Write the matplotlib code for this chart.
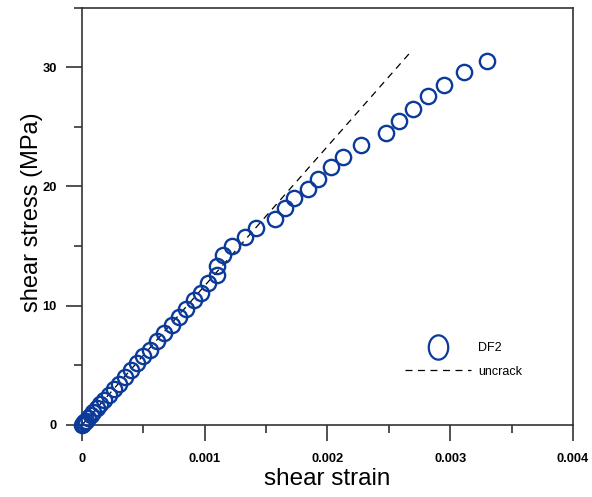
import matplotlib

matplotlib.use("Agg")

import matplotlib.pyplot as plt
from matplotlib.lines import Line2D
from matplotlib.path import Path
from matplotlib.ticker import FuncFormatter, MultipleLocator
from matplotlib.transforms import Affine2D

# Measured shear response of specimen DF2
strain = [0.0, 0.00001, 0.00002, 0.00003, 0.00005, 0.00007, 0.00009, 0.00012,
          0.00015, 0.00018, 0.00022, 0.00026, 0.00030, 0.00035, 0.00040,
          0.00045, 0.00050, 0.00055, 0.00061, 0.00067, 0.00073, 0.00079,
          0.00085, 0.00091, 0.00097, 0.00103, 0.00110, 0.00110, 0.00115,
          0.00122, 0.00133, 0.00142, 0.00157, 0.00165, 0.00173, 0.00184,
          0.00192, 0.00203, 0.00213, 0.00227, 0.00248, 0.00258, 0.00270,
          0.00282, 0.00295, 0.00311, 0.00330]
stress = [0.0, 0.1, 0.25, 0.35, 0.6, 0.8, 1.05, 1.4,
          1.75, 2.1, 2.55, 3.0, 3.45, 4.0, 4.6,
          5.2, 5.75, 6.3, 7.0, 7.7, 8.4, 9.05,
          9.75, 10.45, 11.1, 11.9, 12.6, 13.3, 14.25,
          15.0, 15.8, 16.5, 17.3, 18.2, 19.0, 19.8,
          20.6, 21.6, 22.5, 23.5, 24.5, 25.5, 26.5,
          27.6, 28.5, 29.6, 30.5]

# Linear-elastic (uncracked) reference line
uncrack_strain = [0.0, 0.00268]
uncrack_stress = [0.0, 31.3]

BLUE = "#0b3a9a"
AXIS = "#333333"

plt.rcParams["font.family"] = ["Liberation Sans", "DejaVu Sans"]
plt.rcParams["lines.scale_dashes"] = False

fig = plt.figure(figsize=(5.92, 4.97), dpi=100)
ax = fig.add_axes([0.1385, 0.1449, 0.8294, 0.8400])

ax.plot(uncrack_strain, uncrack_stress, color="black", lw=0.9,
        dashes=(5, 4), zorder=2)
ax.plot(strain, stress, ls="none", marker="o", ms=11, mfc="none",
        mec=BLUE, mew=1.7, clip_on=False, zorder=3)

ax.set_xlim(0, 0.004)
ax.set_ylim(0, 35)

ax.xaxis.set_major_locator(MultipleLocator(0.001))
ax.xaxis.set_minor_locator(MultipleLocator(0.0005))
ax.yaxis.set_major_locator(MultipleLocator(10))
ax.yaxis.set_minor_locator(MultipleLocator(5))
ax.xaxis.set_major_formatter(FuncFormatter(lambda v, _: f"{v:g}"))
ax.yaxis.set_major_formatter(FuncFormatter(lambda v, _: f"{v:g}"))

ax.tick_params(which="both", direction="out", color=AXIS, width=1.2,
               top=False, right=False)
ax.tick_params(which="major", length=11.5, pad=6.5, labelsize=9.3)
ax.tick_params(axis="x", which="major", pad=8.5)
ax.tick_params(which="minor", length=5.8)
for lab in ax.get_xticklabels() + ax.get_yticklabels():
    lab.set_fontweight("bold")

for side in ("left", "bottom", "top", "right"):
    ax.spines[side].set_color(AXIS)
    ax.spines[side].set_linewidth(1.2)

ax.set_xlabel("shear strain", fontsize=17.5, labelpad=2)
ax.set_ylabel("shear stress (MPa)", fontsize=17, labelpad=0)
ax.yaxis.label.set_y(0.51)

# Slightly tall ellipse for the legend marker
ellipse = Path.unit_circle().transformed(Affine2D().scale(0.8, 1.0))
handles = [
    Line2D([], [], ls="none", marker=ellipse, ms=17.5, mfc="none",
           mec=BLUE, mew=1.6),
    Line2D([], [], color="black", lw=0.9, dashes=(5, 4)),
]
ax.legend(handles, ["DF2", "uncrack"], loc="upper left",
          bbox_to_anchor=(0.658, 0.199), frameon=False, borderpad=0,
          borderaxespad=0, handlelength=5.3, handletextpad=0.55,
          labelspacing=0.95, prop={"size": 9})

fig.savefig("out.png", dpi=100)
